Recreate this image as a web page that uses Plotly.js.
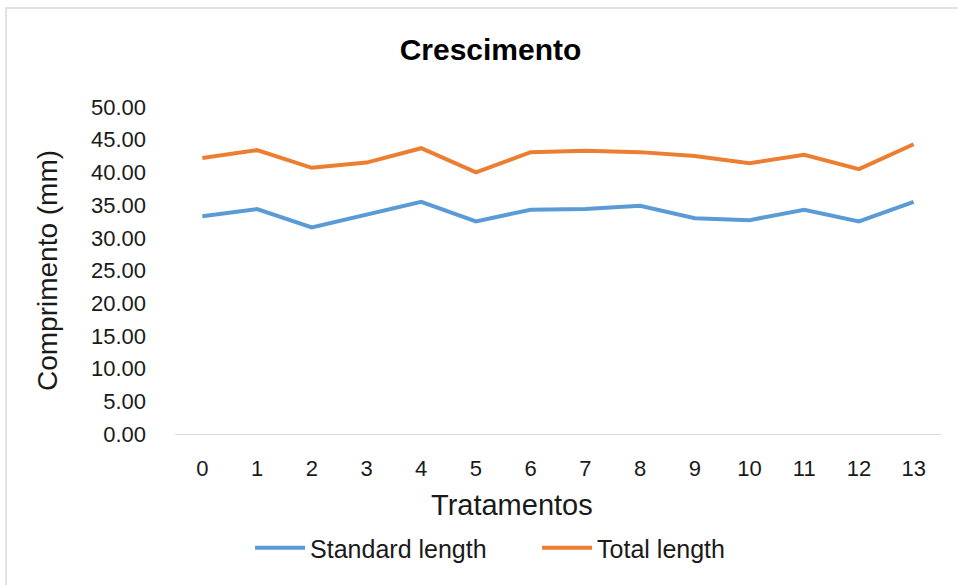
<!DOCTYPE html>
<html>
<head>
<meta charset="utf-8">
<script src="https://cdn.plot.ly/plotly-3.0.1.min.js"></script>
<style>html,body{margin:0;padding:0;background:#fff;}#chart{width:958px;height:585px;}</style>
</head>
<body>
<div id="chart"></div>
<script>
const tratamentos = [0,1,2,3,4,5,6,7,8,9,10,11,12,13];
const standardLength = [33.3,34.4,31.6,33.6,35.5,32.5,34.3,34.4,34.9,33.0,32.7,34.3,32.5,35.5];
const totalLength = [42.2,43.4,40.7,41.5,43.7,40.0,43.1,43.3,43.1,42.5,41.4,42.7,40.5,44.3];
const yTicks = [0,5,10,15,20,25,30,35,40,45,50];
const yTickLabels = yTicks.map(v => v.toFixed(2));

const font = 'Liberation Sans, Arial, sans-serif';
const traces = [
  {x: tratamentos, y: standardLength, name: 'Standard length', type: 'scatter', mode: 'lines',
   line: {color: '#5B9BD5', width: 4}},
  {x: tratamentos, y: totalLength, name: 'Total length', type: 'scatter', mode: 'lines',
   line: {color: '#ED7D31', width: 4}}
];
const layout = {
  width: 958, height: 585,
  margin: {l: 175, r: 17, t: 107, b: 151},
  paper_bgcolor: '#fff', plot_bgcolor: '#fff',
  font: {family: font, color: '#1a1a1a', size: 22},
  title: {text: 'Crescimento', font: {family: font, size: 30, color: '#000', weight: 'bold'},
          x: 0.512, xanchor: 'center', y: 0.915, yanchor: 'middle'},
  xaxis: {
    range: [-0.5, 13.5], tickvals: tratamentos, ticktext: tratamentos.map(String),
    showgrid: false, zeroline: false, showline: true, linecolor: '#d9d9d9', linewidth: 1,
    ticks: '', ticklabelstandoff: 15, tickfont: {family: font, size: 22, color: '#1a1a1a'}
  },
  yaxis: {
    range: [0, 50], tickvals: yTicks, ticktext: yTickLabels,
    showgrid: false, zeroline: false, showline: false,
    ticks: '', ticklabelstandoff: 28, tickfont: {family: font, size: 22, color: '#1a1a1a'},
    title: {text: 'Comprimento (mm)', font: {family: font, size: 28, color: '#1a1a1a'}, standoff: 25}
  },
  annotations: [{text: 'Tratamentos', xref: 'paper', yref: 'paper', x: 0.44, y: -0.217,
                 xanchor: 'center', yanchor: 'middle', showarrow: false,
                 font: {family: font, size: 29, color: '#1a1a1a'}}],
  showlegend: true,
  legend: {orientation: 'h', x: 0.098, xanchor: 'left', y: -0.349, yanchor: 'middle',
           font: {family: font, size: 25, color: '#1a1a1a'}, itemwidth: 50, entrywidth: 222,
           bgcolor: 'rgba(0,0,0,0)'},
  shapes: [{type: 'rect', xref: 'paper', yref: 'paper', x0: -0.2206, x1: 1.03, y0: -0.48, y1: 1.3028,
            line: {color: '#d9d9d9', width: 1.5}, fillcolor: 'rgba(0,0,0,0)', layer: 'below'}]
};
Plotly.newPlot('chart', traces, layout, {displayModeBar: false, staticPlot: true});
</script>
</body>
</html>
